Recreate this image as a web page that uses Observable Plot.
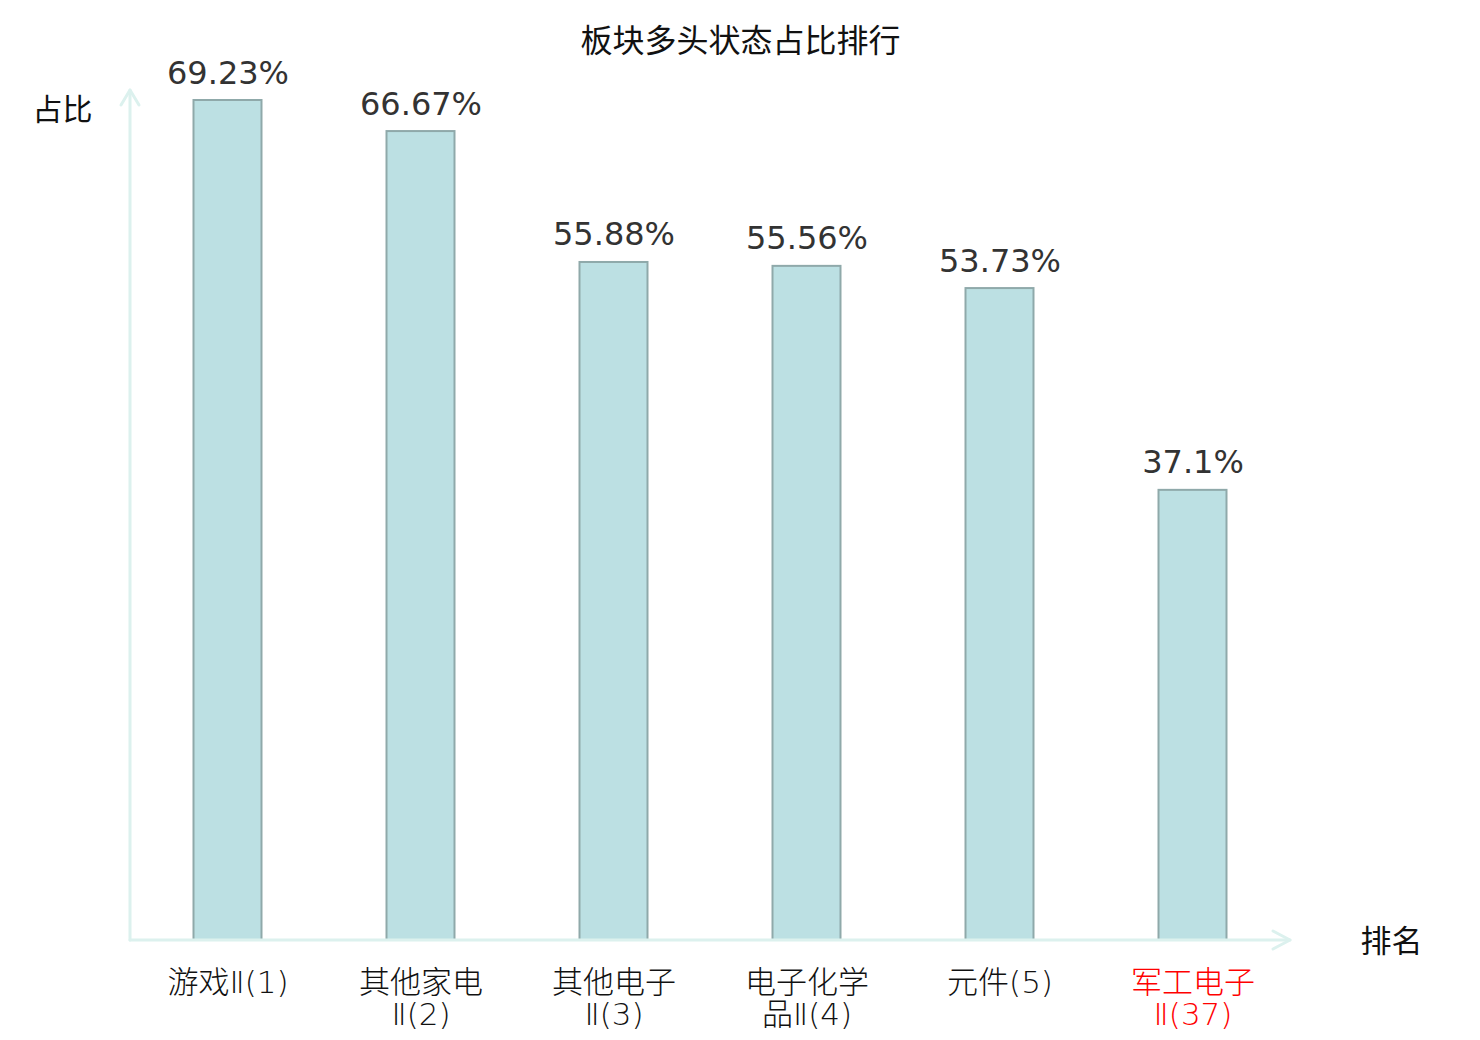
<!DOCTYPE html>
<html>
<head>
<meta charset="utf-8">
<script src="https://cdn.jsdelivr.net/npm/d3@7"></script>
<script src="https://cdn.jsdelivr.net/npm/@observablehq/plot@0.6"></script>
<style>
  html, body { margin: 0; padding: 0; background: #fff; }
  #chart svg { display: block; }
</style>
</head>
<body>
<div id="chart"></div>
<script>
const categories = ["游戏Ⅱ(1)", "其他家电\nⅡ(2)", "其他电子\nⅡ(3)", "电子化学\n品Ⅱ(4)", "元件(5)", "军工电子\nⅡ(37)"];
const values = [69.23, 66.67, 55.88, 55.56, 53.73, 37.1];
const valueLabels = ["69.23%", "66.67%", "55.88%", "55.56%", "53.73%", "37.1%"];
const labelColors = ["#111", "#111", "#111", "#111", "#111", "#ff0000"];
const title = "板块多头状态占比排行";
const yTitle = "占比";
const xTitle = "排名";

const data = categories.map((c, i) => ({
  cat: c,
  line1: c.split("\n")[0],
  line2: c.split("\n")[1] || "",
  value: values[i],
  label: valueLabels[i],
  color: labelColors[i]
}));

const W = 1480, H = 1040;
const mL = 130, mR = 190, mT = 100, mB = 100;
const axisColor = "#dcf1ee";
const cjk = "'DejaVu Sans', 'Noto Sans CJK SC', sans-serif";

function axesArrows(index, scales, values, dims) {
  const g = d3.create("svg:g");
  const x0 = dims.marginLeft, y0 = dims.height - dims.marginBottom;
  const x1 = dims.width - dims.marginRight;
  const yTop = dims.marginTop - 10;
  const s = {stroke: axisColor, "stroke-width": 3, fill: "none", "stroke-linecap": "round", "stroke-linejoin": "round"};
  const path = (d) => { const p = g.append("path").attr("d", d); for (const k in s) p.attr(k, s[k]); };
  path(`M${x0},${y0}V${yTop}`);
  path(`M${x0 - 9},${yTop + 15}L${x0},${yTop}L${x0 + 9},${yTop + 15}`);
  path(`M${x0},${y0}H${x1}`);
  path(`M${x1 - 17},${y0 - 9}L${x1},${y0}L${x1 - 17},${y0 + 9}`);
  return g.node();
}

const labelFont = "'DejaVu Sans', 'Noto Sans CJK SC', sans-serif";

const chart = Plot.plot({
  width: W,
  height: H,
  marginLeft: mL,
  marginRight: mR,
  marginTop: mT,
  marginBottom: mB,
  style: {fontFamily: cjk, background: "#fff"},
  x: {domain: categories, padding: 0, axis: null},
  y: {domain: [0, 69.23], axis: null},
  marks: [
    Plot.barY(data, {x: "cat", y: "value", fill: "#bce0e3", stroke: "#8fa9aa", strokeWidth: 2, insetLeft: 62.5, insetRight: 62.5}),
    axesArrows,
    Plot.text(data, {x: "cat", y: "value", text: "label", lineAnchor: "bottom", dy: -17, fontSize: 32, fill: "#333", fontFamily: "'DejaVu Sans', sans-serif"}),
    Plot.text(data, {x: "cat", y: () => 0, text: "line1", lineAnchor: "middle", dy: 43, fontSize: 31, fill: "color", fontFamily: labelFont, fontWeight: 200}),
    Plot.text(data, {x: "cat", y: () => 0, text: "line2", lineAnchor: "middle", dy: 75, fontSize: 31, fill: "color", fontFamily: labelFont, fontWeight: 200}),
    Plot.text([title], {frameAnchor: "top", dx: 30, dy: -71, text: d => d, fontSize: 32, fill: "#111", fontFamily: "'Noto Sans CJK SC', sans-serif"}),
    Plot.text([yTitle], {frameAnchor: "top-left", dx: -98, dy: -2, text: d => d, fontSize: 30, fill: "#111", textAnchor: "start", fontFamily: "'Noto Sans CJK SC', sans-serif"}),
    Plot.text([xTitle], {frameAnchor: "bottom-right", dx: 132, dy: 2, text: d => d, fontSize: 31, fill: "#111", textAnchor: "end", lineAnchor: "middle", fontFamily: "'Noto Sans CJK SC', sans-serif"})
  ]
});
document.getElementById("chart").appendChild(chart);
</script>
</body>
</html>
